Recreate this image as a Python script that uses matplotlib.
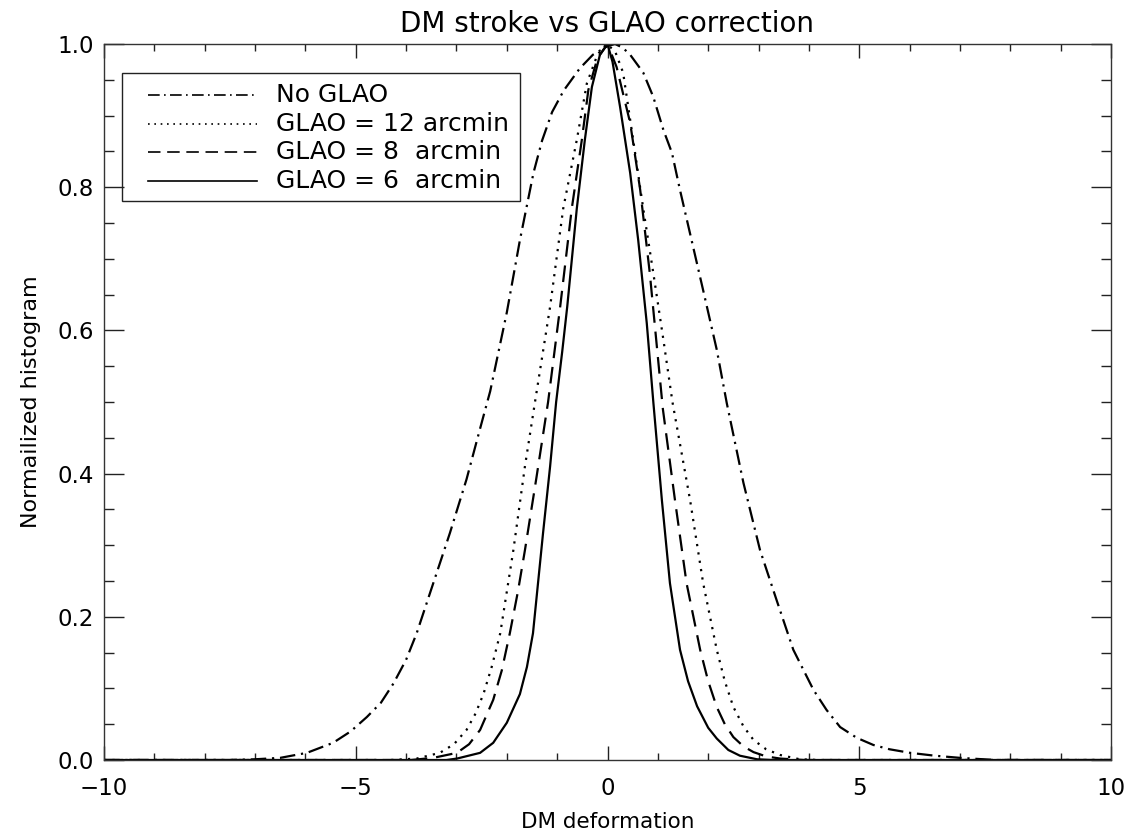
import matplotlib
matplotlib.use("Agg")
import matplotlib.pyplot as plt
from matplotlib.ticker import MultipleLocator
from matplotlib.patches import Rectangle

# ---- data ----
x_nog = [-10.0, -7.5, -7.0, -6.5, -5.97, -5.45, -5.1, -4.78, -4.5, -4.25, -4.0, -3.79, -3.46,
         -3.13, -2.80, -2.53, -2.33, -2.0, -1.74, -1.47, -1.3, -1.1, -0.87, -0.55, -0.29, 0.0,
         0.15, 0.3, 0.45, 0.71, 0.91, 1.11, 1.28, 1.44, 1.67, 1.90, 2.17, 2.37, 2.70, 3.03,
         3.36, 3.69, 4.09, 4.35, 4.62, 4.95, 5.28, 5.6, 6.01, 6.5, 7.0, 7.7, 10.0]
y_nog = [0.0, 0.0, 0.001, 0.003, 0.010, 0.024, 0.040, 0.060, 0.080, 0.107, 0.140, 0.177, 0.247,
         0.317, 0.392, 0.463, 0.515, 0.625, 0.726, 0.820, 0.865, 0.905, 0.935, 0.966, 0.985,
         0.997, 1.0, 0.995, 0.985, 0.960, 0.926, 0.880, 0.848, 0.796, 0.726, 0.656, 0.573,
         0.498, 0.387, 0.293, 0.223, 0.154, 0.098, 0.070, 0.046, 0.031, 0.021, 0.015, 0.010,
         0.006, 0.003, 0.0, 0.0]

x_12 = [-10.0, -4.3, -3.79, -3.33, -3.05, -2.80, -2.62, -2.46, -2.3, -2.13, -1.87, -1.64,
        -1.44, -1.14, -0.88, -0.61, -0.41, -0.2, -0.02, 0.15, 0.31, 0.51, 0.71, 0.91, 1.11,
        1.29, 1.64, 1.90, 2.17, 2.33, 2.50, 2.70, 2.90, 3.15, 3.43, 3.82, 4.2, 10.0]
y_12 = [0.0, 0.0, 0.002, 0.010, 0.022, 0.042, 0.065, 0.093, 0.130, 0.177, 0.293, 0.410,
        0.500, 0.633, 0.770, 0.866, 0.945, 0.985, 1.0, 0.990, 0.960, 0.866, 0.770, 0.680,
        0.587, 0.500, 0.363, 0.247, 0.154, 0.110, 0.074, 0.047, 0.028, 0.015, 0.007, 0.001,
        0.0, 0.0]

x_8 = [-10.0, -3.9, -3.46, -2.99, -2.75, -2.53, -2.27, -2.1, -1.94, -1.78, -1.64, -1.41,
       -1.18, -0.94, -0.71, -0.51, -0.38, -0.2, 0.0, 0.18, 0.45, 0.65, 0.84, 1.1, 1.34, 1.57,
       1.84, 2.0, 2.17, 2.33, 2.50, 2.70, 2.90, 3.15, 3.43, 3.9, 10.0]
y_8 = [0.0, 0.0, 0.003, 0.010, 0.022, 0.042, 0.084, 0.125, 0.177, 0.235, 0.293, 0.395,
       0.500, 0.633, 0.770, 0.866, 0.936, 0.980, 1.0, 0.968, 0.890, 0.796, 0.680, 0.490,
       0.363, 0.247, 0.154, 0.110, 0.074, 0.050, 0.032, 0.019, 0.011, 0.005, 0.002, 0.0, 0.0]

x_6 = [-10.0, -3.2, -2.99, -2.53, -2.27, -2.0, -1.74, -1.60, -1.48, -1.28, -1.14, -1.02,
       -0.90, -0.80, -0.61, -0.45, -0.31, -0.15, 0.0, 0.1, 0.25, 0.45, 0.61, 0.78, 0.91, 1.08,
       1.24, 1.44, 1.60, 1.78, 2.0, 2.17, 2.4, 2.63, 2.97, 3.3, 10.0]
y_6 = [0.0, 0.0, 0.002, 0.010, 0.024, 0.052, 0.092, 0.130, 0.177, 0.317, 0.410, 0.500,
       0.570, 0.633, 0.770, 0.866, 0.940, 0.985, 1.0, 0.975, 0.912, 0.820, 0.726, 0.610,
       0.500, 0.363, 0.247, 0.154, 0.110, 0.075, 0.045, 0.030, 0.014, 0.006, 0.001, 0.0, 0.0]

labels = ["No GLAO", "GLAO = 12 arcmin", "GLAO = 8  arcmin", "GLAO = 6  arcmin"]
title = "DM stroke vs GLAO correction"
xlabel = "DM deformation"
ylabel = "Normailized histogram"

# ---- figure ----
plt.rcParams['font.family'] = ['DejaVu Sans']
W, H = 1136, 830
fig = plt.figure(figsize=(W / 100, H / 100), dpi=100)
AX_L, AX_R, AX_T, AX_B = 104, 1111, 44, 760
ax = fig.add_axes([AX_L / W, (H - AX_B) / H, (AX_R - AX_L) / W, (AX_B - AX_T) / H])

lw = 1.6
styles = [(0, (7, 2.6, 1, 2.6)), (0, (1, 2.8)), (0, (7.5, 4)), '-']
series = [(x_nog, y_nog), (x_12, y_12), (x_8, y_8), (x_6, y_6)]
for (xs, ys), st in zip(series, styles):
    ax.plot(xs, ys, color='black', lw=lw, linestyle=st)

ax.set_xlim(-10, 10)
ax.set_ylim(0, 1.0)
ax.xaxis.set_major_locator(MultipleLocator(5))
ax.xaxis.set_minor_locator(MultipleLocator(1))
ax.yaxis.set_major_locator(MultipleLocator(0.2))
ax.yaxis.set_minor_locator(MultipleLocator(0.05))
ax.xaxis.set_major_formatter(plt.FuncFormatter(lambda v, p: f"{v:.0f}".replace('-', '\u2212')))
ax.yaxis.set_major_formatter(plt.FuncFormatter(lambda v, p: f"{v:.1f}"))

ax.tick_params(axis='x', which='major', direction='in', length=10, width=1, top=True,
               bottom=True, labelsize=16.5, pad=12, colors='#222222')
ax.tick_params(axis='x', which='minor', direction='in', length=5, width=1, top=True, bottom=True,
               colors='#222222')
ax.tick_params(axis='y', which='major', direction='in', length=14.5, width=1, left=True,
               right=True, labelsize=16.5, pad=7, colors='#222222')
ax.tick_params(axis='y', which='minor', direction='in', length=7, width=1, left=True, right=True,
               colors='#222222')
for lab in ax.get_xticklabels() + ax.get_yticklabels():
    lab.set_color('black')
for s in ax.spines.values():
    s.set_linewidth(1.0)
    s.set_color('#333333')

ax.set_title(title, fontsize=20, pad=9)
ax.set_xlabel(xlabel, fontsize=15.5, labelpad=9)
ax.set_ylabel(ylabel, fontsize=16, labelpad=12)

# ---- legend box (positions in pixels of the figure, converted to axes fractions) ----
def fx(px):
    return (px - AX_L) / (AX_R - AX_L)

def fy(py):
    return (AX_B - py) / (AX_B - AX_T)

ax.add_patch(Rectangle((fx(122), fy(201)), fx(520) - fx(122), fy(73) - fy(201),
                       transform=ax.transAxes, fill=False, edgecolor='#222222', lw=1.0,
                       clip_on=False, zorder=5))
row_y = [95, 124, 152, 181]
for ry, st, lab in zip(row_y, styles, labels):
    ax.plot([fx(148), fx(257)], [fy(ry), fy(ry)], transform=ax.transAxes, color='black',
            lw=1.2, linestyle=st, clip_on=False, zorder=6)
    ax.text(fx(276), fy(ry), lab, transform=ax.transAxes, fontsize=18, va='center',
            ha='left', zorder=6)

fig.savefig("out.png", dpi=100)
